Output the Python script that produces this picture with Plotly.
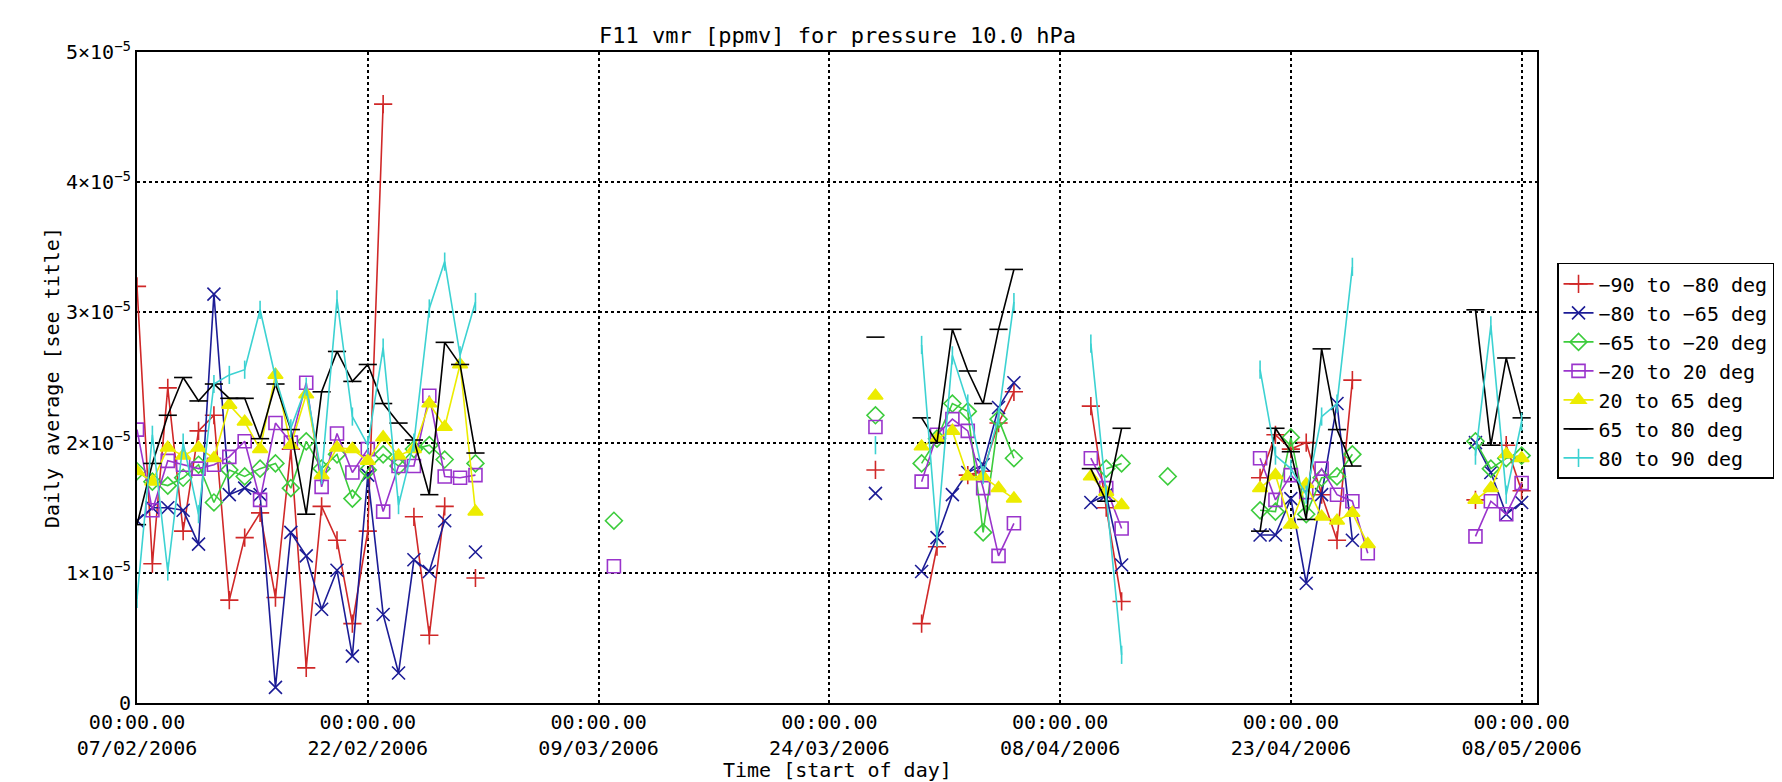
import plotly.graph_objects as go

# dates with data; gap dates (all None) break the lines between clusters
dates = [
    "2006-02-07", "2006-02-08", "2006-02-09", "2006-02-10", "2006-02-11",
    "2006-02-12", "2006-02-13", "2006-02-14", "2006-02-15", "2006-02-16",
    "2006-02-17", "2006-02-18", "2006-02-19", "2006-02-20", "2006-02-21",
    "2006-02-22", "2006-02-23", "2006-02-24", "2006-02-25", "2006-02-26",
    "2006-02-27", "2006-02-28", "2006-03-01", "2006-03-02",
    "2006-03-10", "2006-03-11",
    "2006-03-27", "2006-03-28",
    "2006-03-30", "2006-03-31", "2006-04-01", "2006-04-02", "2006-04-03",
    "2006-04-04", "2006-04-05", "2006-04-06",
    "2006-04-10", "2006-04-11", "2006-04-12", "2006-04-13",
    "2006-04-15", "2006-04-16",
    "2006-04-21", "2006-04-22", "2006-04-23", "2006-04-24", "2006-04-25",
    "2006-04-26", "2006-04-27", "2006-04-28", "2006-04-29",
    "2006-05-05", "2006-05-06", "2006-05-07", "2006-05-08",
]

N = None

# daily averages, in units of 1e-5 ppmv
lat_90_80 = [
    3.20, 1.07, 2.42, 1.32, 2.09, 2.21, 0.79, 1.27, 1.46, 0.81, 1.95, 0.27,
    1.51, 1.25, 0.61, 1.32, 4.60, N, 1.43, 0.52, 1.51, N, 0.96, N,
    N, N,
    1.79, N,
    0.61, 1.20, N, 1.75, 1.78, 2.15, 2.39, N,
    2.28, 1.50, 0.78, N,
    N, N,
    1.73, 2.06, 1.95, 2.00, 1.60, 1.25, 2.48, N, N,
    1.56, N, 1.98, 1.63,
]
lat_80_65 = [
    1.40, 1.50, 1.50, 1.48, 1.22, 3.14, 1.60, 1.65, 1.60, 0.12, 1.31, 1.13,
    0.72, 1.02, 0.36, 1.75, 0.68, 0.23, 1.10, 1.01, 1.40, N, 1.16, N,
    N, N,
    1.61, N,
    1.01, 1.27, 1.60, 1.77, 1.83, 2.27, 2.46, N,
    1.54, 1.60, 1.06, N,
    N, N,
    1.29, 1.29, 1.57, 0.92, 1.60, 2.30, 1.25, N, N,
    2.00, 1.77, 1.45, 1.54,
]
lat_65_20 = [
    1.78, 1.70, 1.67, 1.73, 1.83, 1.54, 1.79, 1.74, 1.80, 1.84, 1.65, 2.01,
    1.80, 1.91, 1.57, 1.79, 1.91, 1.82, 1.95, 1.98, 1.87, N, 1.84, N,
    1.40, N,
    2.21, N,
    1.84, 2.03, 2.30, 2.24, 1.31, 2.18, 1.88, N,
    N, 1.80, 1.84, N,
    1.74, N,
    1.48, 1.47, 2.04, 1.45, 1.73, 1.74, 1.91, N, N,
    2.01, 1.80, 1.88, 1.90,
]
lat_20_20 = [
    2.10, 1.48, 1.86, 1.83, 1.80, 1.83, 1.89, 2.01, 1.56, 2.15, 2.00, 2.46,
    1.66, 2.07, 1.77, 1.95, 1.47, 1.82, 1.82, 2.36, 1.74, 1.73, 1.75, N,
    1.05, N,
    2.12, N,
    1.70, 2.06, 2.18, 2.09, 1.65, 1.13, 1.38, N,
    1.88, 1.65, 1.34, N,
    N, N,
    1.88, 1.56, 1.75, 1.62, 1.80, 1.60, 1.55, 1.15, N,
    1.28, 1.55, 1.45, 1.69,
]
lat_20_65 = [
    1.78, 1.70, 1.96, 1.90, 1.96, 1.88, 2.29, 2.16, 1.95, 2.52, 1.98, 2.37,
    1.75, 1.96, 1.95, 1.86, 2.04, 1.90, 1.95, 2.30, 2.12, 2.60, 1.47, N,
    N, N,
    2.36, N,
    1.97, 2.03, 2.09, 1.74, 1.74, 1.65, 1.57, N,
    1.74, 1.62, 1.52, N,
    N, N,
    1.65, 1.75, 1.37, 1.68, 1.43, 1.40, 1.46, 1.22, N,
    1.56, 1.65, 1.91, 1.88,
]
lat_65_80 = [
    1.37, 1.84, 2.21, 2.50, 2.32, 2.45, 2.34, 2.34, 2.03, 2.45, 2.10, 1.45,
    2.39, 2.70, 2.47, 2.60, 2.30, 2.15, 2.02, 1.60, 2.77, 2.60, 1.92, N,
    N, N,
    2.81, N,
    2.19, 2.00, 2.87, 2.55, 2.30, 2.87, 3.33, N,
    1.80, 1.55, 2.11, N,
    N, N,
    1.32, 2.11, 1.93, 1.41, 2.72, 2.10, 1.82, N, N,
    3.02, 1.98, 2.65, 2.19,
]
lat_80_90 = [
    0.80, 2.06, 1.01, 2.00, 1.45, 2.45, 2.52, 2.56, 3.02, 2.50, 2.11, 2.43,
    1.75, 3.10, 2.20, 1.98, 2.73, 1.52, 2.00, 3.03, 3.39, 2.67, 3.08, N,
    N, N,
    1.98, N,
    2.75, 1.27, 2.67, 2.30, 1.75, 2.20, 3.08, N,
    2.76, 1.60, 0.37, N,
    N, N,
    2.56, 1.90, 1.80, 1.60, 2.20, 2.30, 3.35, N, N,
    1.90, 2.90, 1.60, 2.16,
]

series_names = [
    "−90 to −80 deg", "−80 to −65 deg", "−65 to −20 deg", "−20 to 20 deg",
    "20 to 65 deg", "65 to 80 deg", "80 to 90 deg",
]
series_values = [
    lat_90_80, lat_80_65, lat_65_20, lat_20_20, lat_20_65, lat_65_80, lat_80_90,
]
colors = ["#d02828", "#1c1c96", "#3ccc3c", "#9a34cc", "#ecec00", "#000000", "#3cd2d2"]
symbols = ["cross-thin", "x-thin", "diamond-open", "square-open",
           "triangle-up", "line-ew", "line-ns"]

x_tick_dates = ["2006-02-07", "2006-02-22", "2006-03-09", "2006-03-24",
                "2006-04-08", "2006-04-23", "2006-05-08"]
x_tick_text = ["00:00.00<br>07/02/2006", "00:00.00<br>22/02/2006",
               "00:00.00<br>09/03/2006", "00:00.00<br>24/03/2006",
               "00:00.00<br>08/04/2006", "00:00.00<br>23/04/2006",
               "00:00.00<br>08/05/2006"]
y_tick_vals = [0, 1e-5, 2e-5, 3e-5, 4e-5, 5e-5]
y_tick_text = ["0", "1×10<sup>−5</sup>", "2×10<sup>−5</sup>", "3×10<sup>−5</sup>",
               "4×10<sup>−5</sup>", "5×10<sup>−5</sup>"]

FONT = "DejaVu Sans Mono"

fig = go.Figure()

for name, vals, col, sym in zip(series_names, series_values, colors, symbols):
    fig.add_trace(go.Scatter(
        x=dates,
        y=[v * 1e-5 if v is not None else None for v in vals],
        name=name,
        mode="lines+markers",
        line=dict(color=col, width=1.6),
        marker=dict(symbol=sym, size=13, color=col,
                    line=dict(color=col, width=1.6)),
    ))

fig.update_layout(
    width=1782,
    height=782,
    paper_bgcolor="white",
    plot_bgcolor="white",
    margin=dict(l=129, r=253, t=44, b=87),
    font=dict(family=FONT, size=20, color="black"),
    title=dict(
        text="F11 vmr [ppmv] for pressure 10.0 hPa",
        x=0.4655, xanchor="center",
        y=0.965, yanchor="middle",
        font=dict(family=FONT, size=22, color="black"),
    ),
    legend=dict(
        x=1.0143, xanchor="left",
        y=0.676, yanchor="top",
        bordercolor="black", borderwidth=1.5,
        bgcolor="white",
        font=dict(family=FONT, size=20, color="black"),
    ),
    showlegend=True,
)

fig.update_xaxes(
    type="date",
    range=["2006-02-07", "2006-05-09"],
    tickmode="array",
    tickvals=x_tick_dates,
    ticktext=x_tick_text,
    showgrid=True,
    gridcolor="black",
    griddash="dot",
    gridwidth=1.5,
    showline=True,
    linecolor="black",
    linewidth=2,
    mirror=True,
    ticks="",
    zeroline=False,
    tickfont=dict(family=FONT, size=20, color="black"),
)

fig.update_yaxes(
    range=[0, 5e-5],
    tickmode="array",
    tickvals=y_tick_vals,
    ticktext=y_tick_text,
    showgrid=True,
    gridcolor="black",
    griddash="dot",
    gridwidth=1.5,
    showline=True,
    linecolor="black",
    linewidth=2,
    mirror=True,
    ticks="",
    zeroline=False,
    tickfont=dict(family=FONT, size=20, color="black"),
)

fig.add_annotation(
    text="Daily average [see title]",
    xref="paper", yref="paper",
    x=-0.071, y=0.5,
    textangle=-90,
    showarrow=False,
    font=dict(family=FONT, size=20, color="black"),
)
fig.add_annotation(
    text="Time [start of day]",
    xref="paper", yref="paper",
    x=0.5, y=-0.103,
    yanchor="middle",
    showarrow=False,
    font=dict(family=FONT, size=20, color="black"),
)

fig.write_html("out.html")
